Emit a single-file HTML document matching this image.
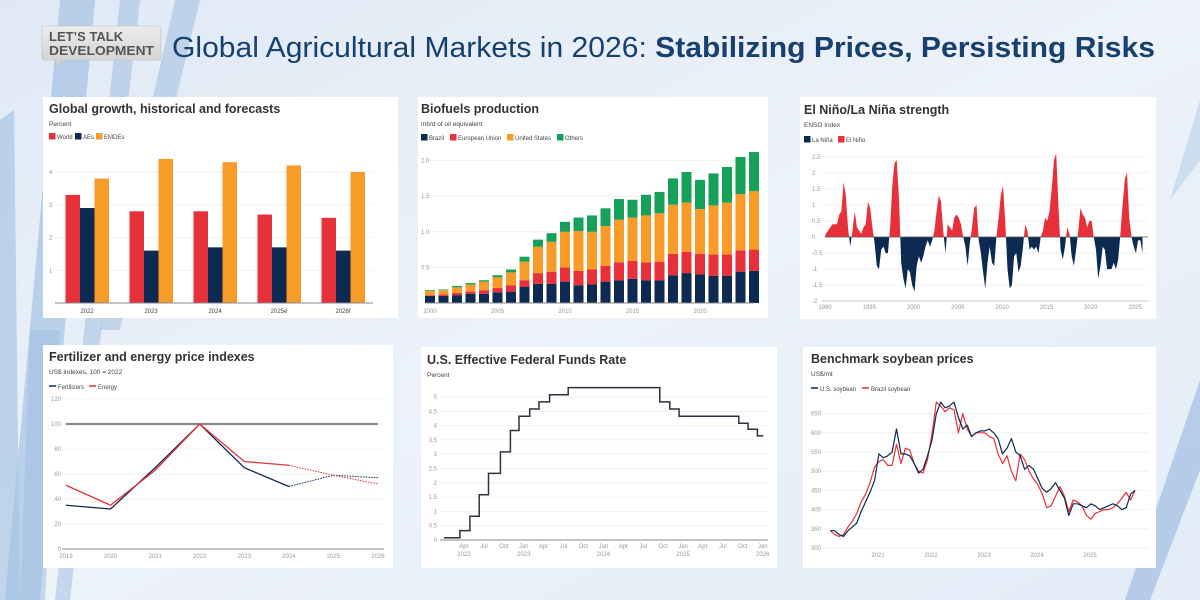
<!DOCTYPE html>
<html><head><meta charset="utf-8">
<style>
html,body{margin:0;padding:0;width:1200px;height:600px;overflow:hidden;background:#e6eef8;}
svg{display:block;font-family:"Liberation Sans",Arial,sans-serif;}
</style></head>
<body>
<svg id="chart" width="1200" height="600" viewBox="0 0 1200 600" xmlns="http://www.w3.org/2000/svg">
<defs>
<linearGradient id="bg" x1="0" y1="0" x2="1" y2="1"><stop offset="0" stop-color="#dfe9f5"/><stop offset="0.5" stop-color="#edf2f9"/><stop offset="1" stop-color="#e3ecf7"/></linearGradient>
<linearGradient id="logo" x1="0" y1="0" x2="0" y2="1"><stop offset="0" stop-color="#ececec"/><stop offset="1" stop-color="#cfcfcf"/></linearGradient>
<clipPath id="posClip"><rect x="800" y="100" width="360" height="137"/></clipPath>
<clipPath id="negClip"><rect x="800" y="237" width="360" height="80"/></clipPath>
</defs>
<rect width="1200" height="600" fill="url(#bg)"/>
<g fill="#8fb4dc" opacity="0.8">
<path d="M60 0 L95 0 L40 600 L5 600 Z" opacity="0.65"/>
<path d="M120 0 L140 0 L70 600 L55 600 Z" opacity="0.55"/>
<path d="M175 0 L200 0 L120 330 L100 330 Z" opacity="0.55"/>
<path d="M0 120 L14 110 L20 600 L0 600 Z" opacity="0.6"/>
<path d="M30 330 L60 330 L45 600 L20 600 Z" opacity="0.55"/>
<path d="M1200 380 L1200 470 L1150 600 L1125 600 Z" opacity="0.7"/>
<path d="M1200 100 L1200 160 L1170 200 Z" opacity="0.4"/>
</g>
<g>
<path d="M45 26 H158 Q161 26 161 29 V57 Q161 60 158 60 H62 L56 70 L56 60 H45 Q42 60 42 57 V29 Q42 26 45 26 Z" fill="url(#logo)" stroke="#bbb" stroke-width="0.6"/>
<text x="49" y="41" font-size="13" font-weight="bold" fill="#555">LET’S TALK</text>
<text x="49" y="55" font-size="13" font-weight="bold" fill="#555" textLength="105" lengthAdjust="spacingAndGlyphs">DEVELOPMENT</text>
</g>
<text x="172" y="57" font-size="29" fill="#17406e" textLength="983" lengthAdjust="spacingAndGlyphs">Global Agricultural Markets in 2026: <tspan font-weight="bold">Stabilizing Prices, Persisting Risks</tspan></text>
<g id="layer"></g>
</svg>
<script>
// ---- data: growth ----
const growthCats = ['2022','2023','2024','2025e','2026f'];
const growthWorld = [3.3,2.8,2.8,2.7,2.6];
const growthAEs = [2.9,1.6,1.7,1.7,1.6];
const growthEMDEs = [3.8,4.4,4.3,4.2,4.0];
const growthTicks = [1,2,3,4];
// ---- data: biofuels ----
const bioYears = [2000,2001,2002,2003,2004,2005,2006,2007,2008,2009,2010,2011,2012,2013,2014,2015,2016,2017,2018,2019,2020,2021,2022,2023,2024];
const bioBrazil = [.10,.10,.11,.13,.13,.15,.16,.23,.27,.27,.30,.25,.26,.30,.32,.34,.32,.32,.39,.42,.40,.38,.38,.44,.45];
const bioEU = [.01,.02,.03,.03,.05,.06,.09,.09,.15,.17,.20,.20,.21,.22,.25,.25,.25,.26,.30,.30,.29,.30,.30,.30,.30];
const bioUS = [.06,.06,.08,.10,.12,.15,.18,.26,.37,.42,.50,.56,.53,.56,.60,.61,.66,.68,.69,.69,.63,.69,.73,.79,.82];
const bioOthers = [.01,.01,.02,.02,.02,.03,.04,.07,.10,.12,.14,.19,.23,.25,.29,.25,.29,.30,.37,.43,.41,.45,.50,.52,.55];
const bioTicks = [0.5,1.0,1.5,2.0];
const bioXLabels = [2000,2005,2010,2015,2020];
// ---- data: ENSO (quarterly from 1990) ----
const ensoStart = 1990;
const ensoValues = [0.1,0.2,0.3,0.4, 0.4,0.4,0.7,0.8, 1.7,1.3,0.3,-0.3, 0.2,0.8,0.3,0.2, 0.1,0.3,0.4,1.1, 0.9,0.3,-0.2,-0.9, -1.0,-0.4,-0.3,-0.5, -0.5,0.3,1.6,2.3, 2.4,1.2,-0.8,-1.3, -1.6,-1.0,-1.1,-1.5, -1.7,-0.9,-0.6,-0.8, -0.6,-0.3,-0.1,-0.3, -0.1,0.2,0.8,1.3, 1.1,0.2,-0.5,0.4, 0.3,0.2,0.6,0.7, 0.6,0.4,0.0,-0.3, -0.9,-0.2,0.3,0.9, 1.0,-0.1,-0.5,-1.1, -1.6,-0.8,-0.3,-0.8, -0.9,0.0,0.6,1.3, 1.6,0.5,-1.0,-1.6, -1.5,-0.6,-0.5,-1.1, -0.9,-0.3,0.4,0.2, -0.4,-0.3,-0.4,-0.3, -0.5,0.0,0.2,0.6, 0.5,0.8,1.5,2.4, 2.6,1.0,-0.4,-0.7, -0.3,0.3,0.1,-0.6, -0.9,-0.4,0.2,0.9, 0.7,0.6,0.3,0.5, 0.5,0.0,-0.4,-1.3, -0.9,-0.3,-0.4,-1.0, -1.0,-1.0,-0.8,-1.0, -0.7,0.1,1.0,1.8, 2.0,0.6,0.0,-0.3, -0.5,-0.1,-0.1,-0.5];
const ensoTicks = [-2,-1.5,-1,-0.5,0,0.5,1,1.5,2,2.5];
const ensoXLabels = [1990,1995,2000,2005,2010,2015,2020,2025];
// ---- data: fertilizer ----
const fertYears = [2019,2020,2021,2022,2023,2024,2025,2026];
const fertFertilizers = [35,32,65,100,65,50,59,57];
const fertEnergy = [51,35,63,100,70,67,59,52];
const fertTicks = [0,20,40,60,80,100,120];
// ---- data: fed funds ----
const fedMonths = [0,2.4,3.9,5.3,6.7,8.5,10.0,11.3,12.9,14.3,15.9,18.7,32.5,34.0,35.4,44.4,45.8,47.2];
const fedRates = [0.08,0.33,0.83,1.58,2.33,3.08,3.83,4.33,4.58,4.83,5.08,5.33,4.83,4.58,4.33,4.08,3.87,3.64];
const fedEndMonth = 48.1;
const fedTicks = [0,0.5,1,1.5,2,2.5,3,3.5,4,4.5,5];
const fedXLabels = ['Apr','Jul','Oct','Jan','Apr','Jul','Oct','Jan','Apr','Jul','Oct','Jan','Apr','Jul','Oct','Jan'];
const fedXYears = ['2022','','','2023','','','','2024','','','','2025','','','','2026'];
// ---- data: soybean (monthly from Feb 2020) ----
const soyStart = 2020.1;
const soyUS = [345,345,335,330,345,355,365,395,420,445,475, 545,535,540,550,610,545,545,540,520,495,505,540, 580,650,680,665,670,680,640,610,620,590,600,605, 605,610,600,585,545,560,585,550,540,505,515,505, 480,455,445,455,470,450,430,385,415,415,410,405, 415,410,400,405,410,415,410,400,405,440,450];
const soyBrazil = [345,335,330,335,355,370,390,420,440,470,510, 525,530,515,515,570,520,560,555,520,500,495,530, 595,680,670,655,665,660,600,650,610,590,600,600, 600,590,585,545,520,540,500,475,545,530,500,480, 465,440,405,410,435,460,435,395,425,420,410,385, 375,390,395,400,400,405,415,430,445,425,450];
const soyTicks = [300,350,400,450,500,550,600,650];
const soyXLabels = [2021,2022,2023,2024,2025];

const NS='http://www.w3.org/2000/svg';
const root=document.getElementById('layer');
function mk(tag,a,p){const e=document.createElementNS(NS,tag);for(const k in a)e.setAttribute(k,a[k]);(p||root).appendChild(e);return e;}
function txt(s,a,p){const e=mk('text',a,p);e.textContent=s;return e;}
const NAVY='#0d2a52', RED='#e8303a', ORANGE='#f99b28', GREEN='#16a05a', GRID='#eeeeee', TICK='#999';

function panel(name,x,y,w,h,title,sub,tx,ty){
  const g=mk('g',{});
  
  
  const r=mk('rect',{x:x,y:y,width:w,height:h,fill:'#fff'},g);
  
  
  const t=txt(title,{x:tx,y:ty,'font-size':12.5,'font-weight':'bold',fill:'#333'},g);
  
  
  const s=txt(sub,{x:tx,y:ty+13,'font-size':6.5,fill:'#444'},g);
  
  
  return g;
}
function legendBox(g,x,y,color,label,line){
  const lg=mk('g',{},g);
  
  
  if(line){mk('line',{x1:x,x2:x+7,y1:y+3,y2:y+3,stroke:color,'stroke-width':1.5},lg);}
  else mk('rect',{x:x,y:y,width:6.5,height:6.5,fill:color},lg);
  txt(label,{x:x+(line?9:8),y:y+6,'font-size':6,fill:'#444'},lg);
}
function gridY(g,x1,x2,y,label,lx,anchor){
  const l=mk('line',{x1:x1,x2:x2,y1:y,y2:y,stroke:GRID,'stroke-width':0.8},g);
  
  
  const t=txt(label,{x:lx,y:y+2,'font-size':6,fill:TICK,'text-anchor':anchor||'start'},g);
  
  
}

// ===== Panel 1 =====
(function(){
  const g=panel('growth-chart',43,97,355,221,'Global growth, historical and forecasts','Percent',49,113);
  legendBox(g,49,133,RED,'World');legendBox(g,75,133,NAVY,'AEs');legendBox(g,96,133,ORANGE,'EMDEs');
  const y=v=>303-v*32.75, cx=i=>87+i*64;
  growthTicks.forEach(v=>gridY(g,55,373,y(v),String(v),49));
  const series=[[growthWorld,RED,-21.5,'world'],[growthAEs,NAVY,-7,'aes'],[growthEMDEs,ORANGE,7.5,'emdes']];
  growthCats.forEach((c,i)=>{
    series.forEach(s=>{
      const b=mk('rect',{x:cx(i)+s[2],y:y(s[0][i]),width:14.5,height:y(0)-y(s[0][i]),fill:s[1]},g);
      
      
    });
    const t=txt(c,{x:cx(i),y:313,'font-size':6,fill:'#444','text-anchor':'middle'},g);
    
    
  });
  mk('line',{x1:55,x2:373,y1:303,y2:303,stroke:'#888','stroke-width':1},g);
})();

// ===== Panel 2 =====
(function(){
  const g=panel('biofuels-chart',418,97,350,221,'Biofuels production','mb/d of oil equivalent',421,113);
  legendBox(g,421,134,NAVY,'Brazil');legendBox(g,450,134,RED,'European Union');legendBox(g,507,134,ORANGE,'United States');legendBox(g,557,134,GREEN,'Others');
  const y=v=>303-v*71.2, cx=i=>430+i*13.5;
  bioTicks.forEach(v=>gridY(g,428,752,y(v),v.toFixed(1),421));
  const series=[[bioBrazil,NAVY,'brazil'],[bioEU,RED,'eu'],[bioUS,ORANGE,'us'],[bioOthers,GREEN,'others']];
  bioYears.forEach((yr,i)=>{
    let base=0;
    series.forEach(s=>{
      const v=s[0][i];
      const b=mk('rect',{x:cx(i)-5,y:y(base+v),width:10,height:y(base)-y(base+v),fill:s[1]},g);
      
      
      base+=v;
    });
  });
  bioXLabels.forEach(yr=>{
    const t=txt(String(yr),{x:cx(bioYears.indexOf(yr)),y:313,'font-size':6,fill:TICK,'text-anchor':'middle'},g);
    
    
  });
  mk('line',{x1:426,x2:754,y1:303,y2:303,stroke:'#888','stroke-width':1},g);
})();

// ===== Panel 3 =====
(function(){
  const g=panel('enso-chart',800,97,356,222,'El Niño/La Niña strength','ENSO Index',804,114);
  legendBox(g,804,136,NAVY,'La Niña');legendBox(g,838,136,RED,'El Niño');
  const x=t=>825+(t-1990)*8.857, y=v=>237-v*32.1;
  ensoTicks.forEach(v=>gridY(g,822,1148,y(v),String(v),812));
  let d='M'+x(ensoStart)+','+y(0);
  ensoValues.forEach((v,i)=>{d+=' L'+x(ensoStart+i*0.25+0.1).toFixed(1)+','+y(v).toFixed(1);});
  d+=' L'+x(ensoStart+(ensoValues.length-1)*0.25+0.1).toFixed(1)+','+y(0)+' Z';
  const p=mk('path',{d:d,fill:RED,'clip-path':'url(#posClip)'},g);
  
  
  const n=mk('path',{d:d,fill:NAVY,'clip-path':'url(#negClip)'},g);
  
  
  mk('line',{x1:825,x2:1148,y1:y(0),y2:y(0),stroke:'#555','stroke-width':0.7},g);
  ensoXLabels.forEach(yr=>{
    const t=txt(String(yr),{x:x(yr),y:309,'font-size':6,fill:TICK,'text-anchor':'middle'},g);
    
    
  });
  mk('line',{x1:822,x2:1148,y1:301,y2:301,stroke:'#bbb','stroke-width':0.8},g);
})();

// ===== Panel 4 =====
(function(){
  const g=panel('fertilizer-chart',43,345,350,223,'Fertilizer and energy price indexes','US$ indexes, 100 = 2022',49,361);
  legendBox(g,49,383,NAVY,'Fertilizers',true);legendBox(g,89,383,RED,'Energy',true);
  const x=yr=>66+(yr-2019)*44.57, y=v=>549-v*1.25;
  fertTicks.forEach(v=>gridY(g,62,384,y(v),String(v),61,'end'));
  const ref=mk('line',{x1:x(2019),x2:x(2026),y1:y(100),y2:y(100),stroke:'#8a8a8a','stroke-width':2.2},g);
  
  
  [[fertFertilizers,NAVY,'fertilizers'],[fertEnergy,RED,'energy']].forEach(s=>{
    let a='',b='';
    fertYears.forEach((yr,i)=>{
      if(i<=5)a+=(i?' L':'M')+x(yr)+','+y(s[0][i]);
      if(i>=5)b+=(i>5?' L':'M')+x(yr)+','+y(s[0][i]);
    });
    const l=mk('path',{d:a,fill:'none',stroke:s[1],'stroke-width':1.3},g);
    
    
    const f=mk('path',{d:b,fill:'none',stroke:s[1],'stroke-width':1,'stroke-dasharray':'1.5 1.2'},g);
    
    
  });
  mk('line',{x1:62,x2:384,y1:549,y2:549,stroke:'#888','stroke-width':1},g);
  fertYears.forEach(yr=>{
    const t=txt(String(yr),{x:x(yr),y:558,'font-size':6,fill:TICK,'text-anchor':'middle'},g);
    
    
  });
})();

// ===== Panel 5 =====
(function(){
  const g=panel('fed-funds-chart',421,347,356,221,'U.S. Effective Federal Funds Rate','Percent',427,364);
  const x=m=>444+m*6.64, y=v=>540-v*28.6;
  fedTicks.forEach(v=>gridY(g,440,768,y(v),String(v),437,'end'));
  let d='';
  fedMonths.forEach((m,i)=>{
    if(i===0)d='M'+x(m)+','+y(fedRates[i]);
    else d+=' H'+x(m).toFixed(1)+' V'+y(fedRates[i]).toFixed(1);
  });
  d+=' H'+x(fedEndMonth);
  mk('line',{x1:440,x2:768,y1:540,y2:540,stroke:'#888','stroke-width':1},g);
  const l=mk('path',{d:d,fill:'none',stroke:'#2b3340','stroke-width':1.5},g);
  
  
  fedXLabels.forEach((lab,i)=>{
    const xm=x(3+i*3);
    const t=txt(lab,{x:xm,y:548,'font-size':6,fill:TICK,'text-anchor':'middle'},g);
    
    
    if(fedXYears[i]){
      const t2=txt(fedXYears[i],{x:xm,y:556,'font-size':6,fill:TICK,'text-anchor':'middle'},g);
      
      
    }
  });
})();

// ===== Panel 6 =====
(function(){
  const g=panel('soybean-chart',803,347,353,221,'Benchmark soybean prices','US$/mt',811,363);
  legendBox(g,811,385,NAVY,'U.S. soybean',true);legendBox(g,862,385,RED,'Brazil soybean',true);
  const x=t=>878+(t-2021)*53, y=v=>548-(v-300)*0.384;
  soyTicks.forEach(v=>gridY(g,822,1148,y(v),String(v),821,'end'));
  [[soyBrazil,RED,'brazil-soybean'],[soyUS,NAVY,'us-soybean']].forEach(s=>{
    let d='';
    s[0].forEach((v,i)=>{d+=(i?' L':'M')+x(soyStart+i/12).toFixed(1)+','+y(v).toFixed(1);});
    const l=mk('path',{d:d,fill:'none',stroke:s[1],'stroke-width':1.2,'stroke-linejoin':'round'},g);
    
    
  });
  soyXLabels.forEach(yr=>{
    const t=txt(String(yr),{x:x(yr),y:557,'font-size':6,fill:TICK,'text-anchor':'middle'},g);
    
    
  });
})();
</script>
</body></html>
